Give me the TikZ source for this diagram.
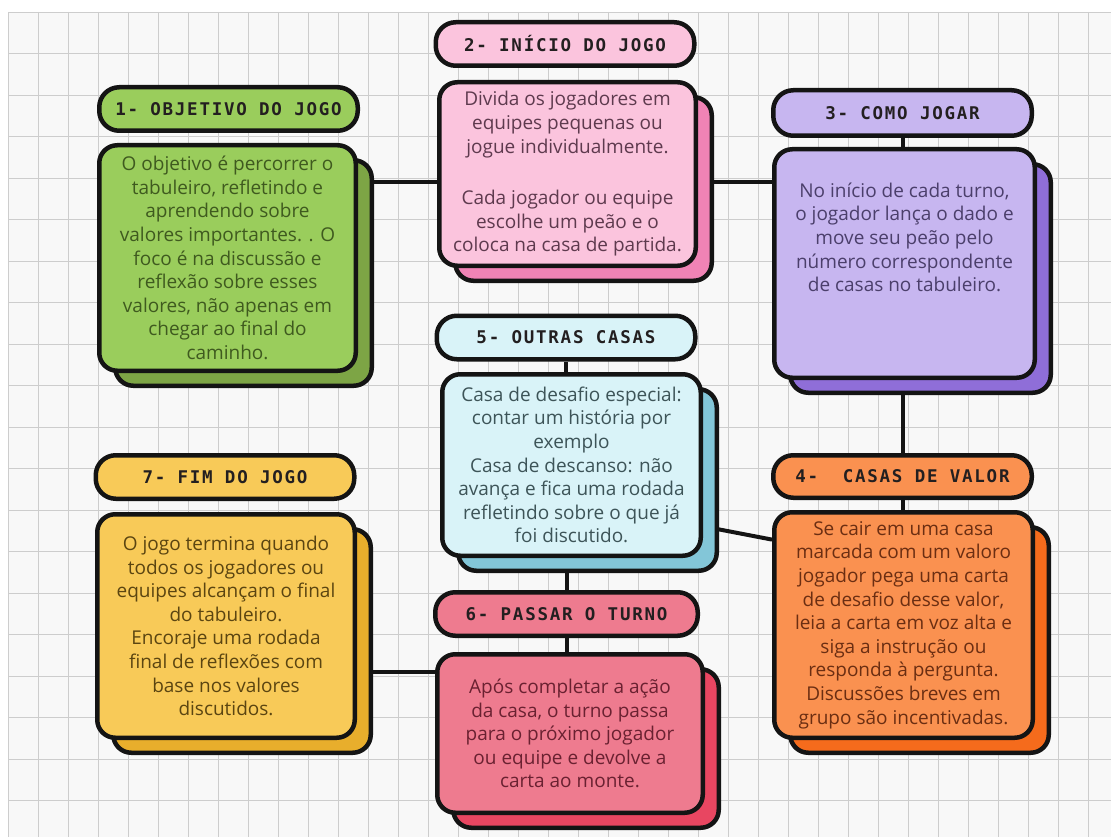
\documentclass[tikz,border=0pt]{standalone}
\usepackage{fontspec}
\setmainfont{Open Sans}
\newfontfamily\titlefont{DejaVu Sans Mono}[LetterSpace=10]
\usetikzlibrary{shadows}
\definecolor{inkc}{HTML}{141414}
\definecolor{titc}{HTML}{231F20}
\definecolor{paperc}{HTML}{F8F8F8}
\definecolor{gridc}{HTML}{CDCDCD}
\definecolor{grnA}{HTML}{9ACD5C}
\definecolor{grnB}{HTML}{7DA545}
\definecolor{grnT}{HTML}{3F5A1F}
\definecolor{pnkA}{HTML}{FBC4DD}
\definecolor{pnkB}{HTML}{F083B5}
\definecolor{pnkT}{HTML}{5E3A4E}
\definecolor{lilA}{HTML}{C7B6F0}
\definecolor{lilB}{HTML}{8F6ED8}
\definecolor{lilT}{HTML}{4B3F6B}
\definecolor{orgA}{HTML}{FA9150}
\definecolor{orgB}{HTML}{F56B1C}
\definecolor{orgT}{HTML}{6B2E12}
\definecolor{cyaA}{HTML}{D9F3F8}
\definecolor{cyaB}{HTML}{83C6D8}
\definecolor{cyaT}{HTML}{3D5458}
\definecolor{redA}{HTML}{EE7B8F}
\definecolor{redB}{HTML}{E84661}
\definecolor{redT}{HTML}{6A2131}
\definecolor{yelA}{HTML}{F8CA58}
\definecolor{yelB}{HTML}{E8AE2C}
\definecolor{yelT}{HTML}{5B4511}
\pgfdeclarelayer{paper}
\pgfdeclarelayer{wires}
\pgfsetlayers{paper,wires,main}
\tikzset{%
    grd/.style={line width=0.8pt, draw=gridc},
    ttl/.style={rectangle, rounded corners=20pt, draw=inkc, line width=4.5pt, minimum width=258.5pt, minimum height=43.5pt, inner sep=0pt, text=titc, font=\titlefont\bfseries\fontsize{17.5}{20}\selectfont},
    bod/.style={rectangle, rounded corners=18pt, draw=inkc, line width=4.5pt, inner sep=0pt, align=center, font=\fontsize{19}{23.6}\selectfont},
    shd/.style={copy shadow={shadow xshift=16pt, shadow yshift=-15pt, fill=#1, draw=inkc, line width=4.5pt}},
    lnk/.style={line width=4pt, draw=inkc},
}
\begin{document}
\begin{tikzpicture}[x=1pt,y=-1pt]
    \useasboundingbox (0,0) rectangle (1111,837);
    \begin{pgfonlayer}{paper}
        \fill [white] (0,0) rectangle (1111,837);
        \fill [paperc] (8,12) rectangle (1111,837);
        \foreach \x in {8,38,...,1111} \draw [grd] (\x,12) -- (\x,837);
        \foreach \y in {12,53.5,...,837} \draw [grd] (8,\y) -- (1111,\y);
    \end{pgfonlayer}
    % left column
    \node [ttl, fill=grnA] (t1) at (228.5,109) {1- OBJETIVO DO JOGO};
    \node [bod, shd=grnB, fill=grnA, text=grnT, minimum width=256.5pt, minimum height=225.5pt] (b1) at (227.5,258)
        {O objetivo é percorrer o\\tabuleiro, refletindo e\\aprendendo sobre\\valores importantes. . O\\foco é na discussão e\\reflexão sobre esses\\valores, não apenas em\\chegar ao final do\\caminho.};
    \node [ttl, fill=yelA] (t7) at (225,477) {7- FIM DO JOGO};
    \node [bod, shd=yelB, fill=yelA, text=yelT, minimum width=257.5pt, minimum height=223.5pt] (b7) at (226,626)
        {O jogo termina quando\\todos os jogadores ou\\equipes alcançam o final\\do tabuleiro.\\Encoraje uma rodada\\final de reflexões com\\base nos valores\\discutidos.};
    % middle column
    \node [ttl, fill=pnkA] (t2) at (565,44) {2- INÍCIO DO JOGO};
    \node [bod, shd=pnkB, fill=pnkA, text=pnkT, minimum width=256.5pt, minimum height=183.5pt] (b2) at (567.5,174)
        {Divida os jogadores em\\equipes pequenas ou\\jogue individualmente.\\[28pt]Cada jogador ou equipe\\escolhe um peão e o\\coloca na casa de partida.};
    \node [ttl, fill=cyaA] (t5) at (566,337.5) {5- OUTRAS CASAS};
    \node [bod, shd=cyaB, fill=cyaA, text=cyaT, minimum width=258.5pt, minimum height=181.5pt] (b5) at (571.5,465)
        {Casa de desafio especial:\\contar um história por\\exemplo\\Casa de descanso: não\\avança e fica uma rodada\\refletindo sobre o que já\\foi discutido.};
    \node [ttl, fill=redA, minimum width=262.5pt] (t6) at (566.5,614) {6- PASSAR O TURNO};
    \node [bod, shd=redB, fill=redA, text=redT, minimum width=265.5pt, minimum height=158.5pt] (b6) at (570,733.5)
        {Após completar a ação\\da casa, o turno passa\\para o próximo jogador\\ou equipe e devolve a\\carta ao monte.};
    % right column
    \node [ttl, fill=lilA, minimum height=45.5pt] (t3) at (902.5,113) {3- COMO JOGAR};
    \node [bod, shd=lilB, fill=lilA, text=lilT, minimum width=260.5pt, minimum height=228.5pt] (b3) at (904.5,263.5)
        {No início de cada turno,\\o jogador lança o dado e\\move seu peão pelo\\número correspondente\\de casas no tabuleiro.\\[22pt]\strut};
    \node [ttl, fill=orgA, minimum height=42.5pt] (t4) at (902.5,476.5) {4-\ \ CASAS DE VALOR};
    \node [bod, shd=orgB, fill=orgA, text=orgT, minimum width=258.5pt, minimum height=225.5pt] (b4) at (903.5,625)
        {Se cair em uma casa\\marcada com um valoro\\jogador pega uma carta\\de desafio desse valor,\\leia a carta em voz alta e\\siga a instrução ou\\responda à pergunta.\\Discussões breves em\\grupo são incentivadas.};
    % connectors
    \begin{pgfonlayer}{wires}
        \coordinate (row1) at (560,182);
        \coordinate (row2) at (400,672);
        \draw [lnk] (b1.east |- row1) -- (b2.west |- row1);
        \draw [lnk] (b2.east |- row1) -- (b3.west |- row1);
        \draw [lnk] (t3.south) -- (t3.south |- b3.north);
        \draw [lnk] (t4.north |- b3.south) -- (t4.north);
        \draw [lnk] (t4.south) -- (t4.south |- b4.north);
        \draw [lnk] (t5.south) -- (t5.south |- b5.north);
        \draw [lnk] (b5.-25) -- (b4.147);
        \draw [lnk] (t6.north |- b5.south) -- (t6.north);
        \draw [lnk] (t6.south) -- (t6.south |- b6.north);
        \draw [lnk] (b7.east |- row2) -- (b6.west |- row2);
    \end{pgfonlayer}
\end{tikzpicture}
\end{document}
